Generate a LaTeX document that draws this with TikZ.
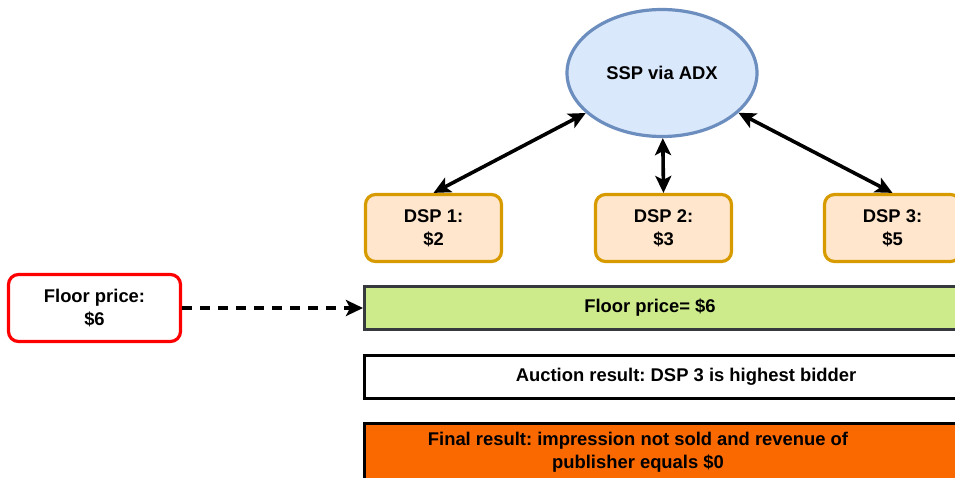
\documentclass[tikz,border=0pt]{standalone}
\usepackage{fontspec}
\setmainfont{Liberation Sans}
\usetikzlibrary{arrows.meta,shapes.geometric}
\frenchspacing

\definecolor{sspfill}{HTML}{DAE8FC}
\definecolor{sspline}{HTML}{6C8EBF}
\definecolor{dspfill}{HTML}{FFE6CC}
\definecolor{dspline}{HTML}{D79B00}
\definecolor{floorfill}{HTML}{CDEB8B}
\definecolor{floorline}{HTML}{36393D}
\definecolor{finalfill}{HTML}{FA6800}
\definecolor{floorred}{HTML}{FF0000}

\tikzset{
  basefont/.style={font=\fontsize{18.4}{23}\selectfont\bfseries},
  dspbox/.style={draw=dspline, fill=dspfill, line width=3.2pt, rounded corners=10pt,
    minimum width=136pt, minimum height=67pt, align=center, basefont},
  bar/.style={draw=black, line width=3.4pt, minimum width=700pt, minimum height=43pt},
  bartext/.style={align=center, basefont},
  bidline/.style={line width=3.6pt, black, {Stealth[length=17pt, width=16pt, inset=4pt]}-{Stealth[length=17pt, width=16pt, inset=4pt]}},
  feedline/.style={line width=3.6pt, black, dash pattern=on 10pt off 8pt, -{Stealth[length=17pt, width=16pt, inset=4pt]}}
}

\begin{document}
\begin{tikzpicture}[x=1pt, y=-1pt]
\useasboundingbox (0,0) rectangle (955,477);
\clip (0,0) rectangle (955,477);

% exchange and bidders
\node[ellipse, draw=sspline, fill=sspfill, line width=3.2pt,
      minimum width=190pt, minimum height=127pt, basefont] (ssp) at (662,73) {SSP via ADX};

\node[dspbox] (dsp1) at (433.5,228) {DSP 1:\\\$2};
\node[dspbox] (dsp2) at (663.5,228) {DSP 2:\\\$3};
\node[dspbox] (dsp3) at (892.5,228) {DSP 3:\\\$5};

\draw[bidline] (ssp) -- (dsp1.north);
\draw[bidline] (ssp) -- (dsp2.north);
\draw[bidline] (ssp) -- (dsp3.north);

% floor price set by the publisher
\node[draw=floorred, fill=white, line width=3.2pt, rounded corners=10pt,
      minimum width=172pt, minimum height=67pt, align=center, basefont] (floorsrc) at (94.5,308) {Floor price:\\\$6};

% result bars
\node[bar, draw=floorline, fill=floorfill, anchor=west] (floorbar) at (363,308) {};
\node[bartext] (floortext) at (650,308) {Floor price= \$6};

\node[bar, fill=white, anchor=west] (auction) at (363,377) {};
\node[bartext] (auctiontext) at (686,377) {Auction result: DSP 3 is highest bidder};

\node[bar, fill=finalfill, anchor=north west, minimum height=100pt] (final) at (363,422) {};
\node[bartext] (finaltext) at (638,452) {Final result: impression not sold and revenue of\\publisher equals \$0};

\draw[feedline] (floorsrc) -- (floorbar);
\end{tikzpicture}
\end{document}
